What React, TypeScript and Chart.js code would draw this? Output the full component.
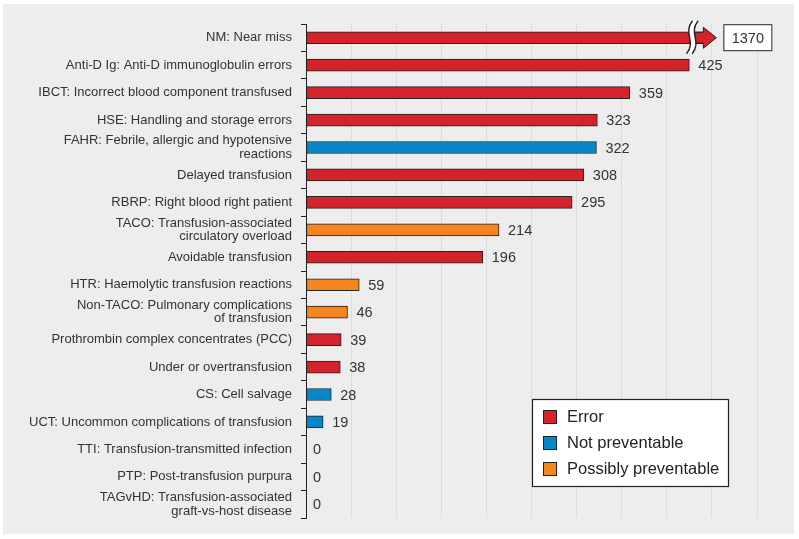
import { useEffect, useRef } from 'react';
import { Chart, registerables } from 'chart.js';

Chart.register(...registerables);

// Incident categories (multi-line labels wrap as in the report table)
const categories: (string | string[])[] = [
  'NM: Near miss',
  'Anti-D Ig: Anti-D immunoglobulin errors',
  'IBCT: Incorrect blood component transfused',
  'HSE: Handling and storage errors',
  ['FAHR: Febrile, allergic and hypotensive', 'reactions'],
  'Delayed transfusion',
  'RBRP: Right blood right patient',
  ['TACO: Transfusion-associated', 'circulatory overload'],
  'Avoidable transfusion',
  'HTR: Haemolytic transfusion reactions',
  ['Non-TACO: Pulmonary complications', 'of transfusion'],
  'Prothrombin complex concentrates (PCC)',
  'Under or overtransfusion',
  'CS: Cell salvage',
  'UCT: Uncommon complications of transfusion',
  'TTI: Transfusion-transmitted infection',
  'PTP: Post-transfusion purpura',
  ['TAGvHD: Transfusion-associated', 'graft-vs-host disease'],
];

const counts = [1370, 425, 359, 323, 322, 308, 295, 214, 196, 59, 46, 39, 38, 28, 19, 0, 0, 0];

const types = [
  'Error', 'Error', 'Error', 'Error', 'Not preventable', 'Error', 'Error',
  'Possibly preventable', 'Error', 'Possibly preventable', 'Possibly preventable',
  'Error', 'Error', 'Not preventable', 'Not preventable', 'Not preventable',
  'Not preventable', 'Not preventable',
];

const legendLabels = ['Error', 'Not preventable', 'Possibly preventable'];
const typeColors = ['#d4232b', '#0787ca', '#f5861f'];

// Axis range; bars beyond axisMax are drawn broken at breakAt
const axisMax = 500;
const gridStep = 50;
const breakAt = 425;

const FONT = "'Liberation Sans', Arial, Helvetica, sans-serif";
const INK = '#222';
const TEXT = '#333';

export default function App() {
  const ref = useRef<HTMLCanvasElement>(null);

  useEffect(() => {
    const canvas = ref.current;
    if (!canvas) return;

    const panel = {
      id: 'panel',
      beforeDraw(chart: any) {
        const c = chart.ctx;
        c.save();
        c.fillStyle = '#ededed';
        c.fillRect(3, 4, 791, 530);
        c.restore();
      },
    };

    const brokenBar = {
      id: 'brokenBar',
      afterDatasetsUpdate(chart: any) {
        const meta = chart.getDatasetMeta(0);
        const xs = chart.scales.x;
        meta.data.forEach((el: any, i: number) => {
          if (counts[i] > axisMax) el.x = xs.getPixelForValue(breakAt) + 14;
        });
      },
      afterDatasetsDraw(chart: any) {
        const c = chart.ctx;
        const meta = chart.getDatasetMeta(0);
        const xs = chart.scales.x;
        c.save();
        // value labels
        c.font = `14.5px ${FONT}`;
        c.fillStyle = TEXT;
        c.textBaseline = 'middle';
        c.textAlign = 'left';
        meta.data.forEach((el: any, i: number) => {
          if (counts[i] > axisMax) return;
          c.fillText(String(counts[i]), el.x + (counts[i] > 0 ? 9 : 7), el.y + 1);
        });

        meta.data.forEach((el: any, i: number) => {
          if (counts[i] <= axisMax) return;
          const bx = xs.getPixelForValue(breakAt);
          const top = el.y - el.height / 2 + 0.5;
          const bot = el.y + el.height / 2 - 0.5;
          const shaftEnd = bx + 14;
          const tip = bx + 27;
          const head = 10.5;
          const color = typeColors[legendLabels.indexOf(types[i])];

          // arrow head continuing the bar
          c.beginPath();
          c.moveTo(bx, top);
          c.lineTo(shaftEnd, top);
          c.lineTo(shaftEnd, el.y - head);
          c.lineTo(tip, el.y);
          c.lineTo(shaftEnd, el.y + head);
          c.lineTo(shaftEnd, bot);
          c.lineTo(bx, bot);
          c.fillStyle = color;
          c.fill();
          c.strokeStyle = INK;
          c.lineWidth = 1;
          c.stroke();

          // S-shaped break
          const cx = bx + 3;
          const wt = el.y - 17;
          const wb = el.y + 16;
          const l = cx - 2.8;
          const r = cx + 2.8;
          c.beginPath();
          c.moveTo(l + 3, wt);
          c.bezierCurveTo(l - 7, wt + 12, l + 7, wb - 12, l - 3, wb);
          c.lineTo(r - 3, wb);
          c.bezierCurveTo(r + 7, wb - 12, r - 7, wt + 12, r + 3, wt);
          c.closePath();
          c.fillStyle = '#ffffff';
          c.fill();
          c.lineWidth = 1.4;
          c.strokeStyle = INK;
          c.beginPath();
          c.moveTo(l + 3, wt);
          c.bezierCurveTo(l - 7, wt + 12, l + 7, wb - 12, l - 3, wb);
          c.stroke();
          c.beginPath();
          c.moveTo(r + 3, wt);
          c.bezierCurveTo(r - 7, wt + 12, r + 7, wb - 12, r - 3, wb);
          c.stroke();

          // boxed value
          const boxX = bx + 34;
          const boxW = 49;
          const boxH = 27;
          c.fillStyle = '#ffffff';
          c.fillRect(boxX, el.y - boxH / 2, boxW, boxH);
          c.lineWidth = 1;
          c.strokeRect(boxX + 0.5, el.y - boxH / 2 + 0.5, boxW - 1, boxH - 1);
          c.fillStyle = TEXT;
          c.textAlign = 'center';
          c.font = `14.5px ${FONT}`;
          c.fillText(String(counts[i]), boxX + boxW / 2, el.y + 1);
          c.textAlign = 'left';
        });
        c.restore();
      },
    };

    const boxLegend = {
      id: 'boxLegend',
      afterDraw(chart: any) {
        const c = chart.ctx;
        const x0 = 532;
        const y0 = 399;
        c.save();
        c.fillStyle = '#ffffff';
        c.fillRect(x0, y0, 197, 88);
        c.strokeStyle = INK;
        c.lineWidth = 1.2;
        c.strokeRect(x0 + 0.5, y0 + 0.5, 196, 87);
        c.font = `16.5px ${FONT}`;
        c.textBaseline = 'middle';
        legendLabels.forEach((lab, k) => {
          const sy = y0 + 11 + k * 26;
          c.fillStyle = typeColors[k];
          c.fillRect(x0 + 11, sy, 14, 14);
          c.lineWidth = 1;
          c.strokeRect(x0 + 11.5, sy + 0.5, 13, 13);
          c.fillStyle = INK;
          c.fillText(lab, x0 + 35, sy + 7.5);
        });
        c.restore();
      },
    };

    const chart = new Chart(canvas, {
      type: 'bar',
      data: {
        labels: categories,
        datasets: [
          {
            data: counts,
            backgroundColor: counts.map((v, i) =>
              v > 0 ? typeColors[legendLabels.indexOf(types[i])] : 'rgba(0,0,0,0)'
            ),
            borderColor: INK,
            borderWidth: (ctx: any) => (counts[ctx.dataIndex] > 0 ? 1 : 0),
            borderSkipped: false,
            barThickness: 12,
          },
        ],
      },
      options: {
        indexAxis: 'y',
        responsive: false,
        animation: false,
        devicePixelRatio: 1,
        layout: { padding: { top: 24, right: 42, bottom: 21, left: 0 } },
        font: { family: FONT },
        scales: {
          x: {
            min: 0,
            max: axisMax,
            ticks: { display: false, stepSize: gridStep },
            grid: {
              color: (ctx: any) => (ctx.tick && ctx.tick.value === 0 ? 'rgba(0,0,0,0)' : '#dcdcdc'),
              drawTicks: false,
              lineWidth: 1,
            },
            border: { display: false },
            afterFit(s: any) {
              s.height = 0;
            },
          },
          y: {
            ticks: {
              color: TEXT,
              autoSkip: false,
              padding: 9,
              font: { family: FONT, size: 13, lineHeight: 1.03 },
            },
            grid: {
              drawOnChartArea: false,
              drawTicks: true,
              tickLength: 5,
              color: INK,
              offset: true,
            },
            border: { color: INK, width: 1 },
            afterFit(s: any) {
              s.width = 306;
            },
          },
        },
        plugins: {
          legend: { display: false },
          tooltip: { enabled: false },
        },
      } as any,
      plugins: [panel, brokenBar, boxLegend],
    });

    return () => chart.destroy();
  }, []);

  return (
    <div style={{ position: 'absolute', left: 0, top: 0, width: 799, height: 539, background: '#ffffff' }}>
      <canvas ref={ref} width={799} height={539} />
    </div>
  );
}
